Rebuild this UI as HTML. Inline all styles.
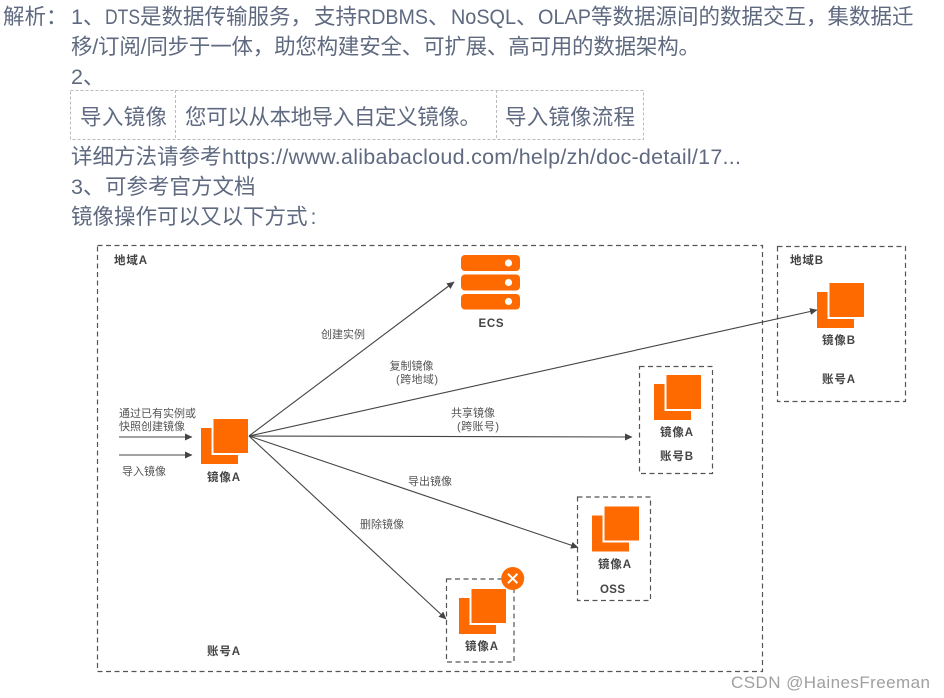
<!DOCTYPE html>
<html><head><meta charset="utf-8">
<style>
html,body{margin:0;padding:0;background:#fff;width:944px;height:698px;overflow:hidden}
svg{display:block}
.t{font-family:"Liberation Sans","Noto Sans CJK SC",sans-serif;font-size:21.5px;fill:#5f6a80}
.s{font-family:"Liberation Sans","Noto Sans CJK SC",sans-serif;font-size:11px;fill:#555}
.b{font-family:"Liberation Sans","Noto Sans CJK SC",sans-serif;font-size:11.5px;font-weight:bold;fill:#444}
.box{fill:none;stroke:#555;stroke-width:1.2;stroke-dasharray:5 3.5}
.ln{stroke:#444;stroke-width:1.1;fill:none}
.o{fill:#ff6a00}
</style></head><body>
<svg width="944" height="698" viewBox="0 0 944 698" xmlns="http://www.w3.org/2000/svg">
<defs>
<marker id="a" markerWidth="8" markerHeight="8" refX="7" refY="3.5" orient="auto" markerUnits="userSpaceOnUse"><path d="M0 0L7.5 3.5L0 7z" fill="#444"/></marker>
<g id="ic"><rect class="o" y="9" width="37" height="36"/><rect x="10.5" y="0" width="36.5" height="36" fill="#fff"/><rect class="o" x="12.5" y="0" width="34.5" height="34"/></g>
</defs>
<text class="t" x="3" y="24">解析：</text>
<text class="t" x="71" y="24">1、</text>
<text class="t" x="105" y="24" textLength="35" lengthAdjust="spacingAndGlyphs">DTS</text>
<text class="t" x="140" y="24">是数据传输服务，</text>
<text class="t" x="314" y="24">支持</text>
<text class="t" x="357" y="24" textLength="71" lengthAdjust="spacingAndGlyphs">RDBMS</text>
<text class="t" x="428" y="24">、</text>
<text class="t" x="451" y="24" textLength="65" lengthAdjust="spacingAndGlyphs">NoSQL</text>
<text class="t" x="516" y="24">、</text>
<text class="t" x="538" y="24" textLength="53" lengthAdjust="spacingAndGlyphs">OLAP</text>
<text class="t" x="591" y="24">等数据源间的数据交互，集数据迁</text>
<text class="t" x="71" y="54" textLength="629">移/订阅/同步于一体，助您构建安全、可扩展、高可用的数据架构。</text>
<text class="t" x="71" y="84">2、</text>
<rect x="70.5" y="90.5" width="573" height="49" fill="none" stroke="#bbb" stroke-dasharray="3 2"/>
<line x1="175.5" y1="90" x2="175.5" y2="139" stroke="#bbb" stroke-dasharray="3 2"/>
<line x1="496.5" y1="90" x2="496.5" y2="139" stroke="#bbb" stroke-dasharray="3 2"/>
<text class="t" x="80" y="124.5" textLength="87">导入镜像</text>
<text class="t" x="185" y="124.5" textLength="296">您可以从本地导入自定义镜像。</text>
<text class="t" x="505" y="124.5" textLength="130">导入镜像流程</text>
<text class="t" x="71" y="164">详细方法请参考</text>
<text class="t" x="222" y="164" textLength="519">https://www.alibabacloud.com/help/zh/doc-detail/17...</text>
<text class="t" x="71" y="194">3、</text>
<text class="t" x="105" y="194">可参考官方文档</text>
<text class="t" x="71" y="224">镜像操作可以又以下方式</text>
<text class="t" x="310.5" y="224">:</text>

<rect class="box" x="97.5" y="245.5" width="665" height="426"/>
<rect class="box" x="777.5" y="246.5" width="128" height="155"/>
<rect class="box" x="639.5" y="366.5" width="73" height="107"/>
<rect class="box" x="577.5" y="497" width="73" height="103.5"/>
<rect class="box" x="446.5" y="579" width="67.5" height="83"/>

<line class="ln" x1="249" y1="436" x2="454" y2="282" marker-end="url(#a)"/>
<line class="ln" x1="249" y1="436" x2="817" y2="310" marker-end="url(#a)"/>
<line class="ln" x1="249" y1="436" x2="632" y2="437" marker-end="url(#a)"/>
<line class="ln" x1="249" y1="436" x2="578" y2="547.5" marker-end="url(#a)"/>
<line class="ln" x1="249" y1="436" x2="446" y2="619" marker-end="url(#a)"/>
<line class="ln" x1="119" y1="437" x2="192" y2="437" marker-end="url(#a)"/>
<line class="ln" x1="119" y1="455" x2="192" y2="455" marker-end="url(#a)"/>

<rect class="o" x="461" y="255" width="59" height="16" rx="4"/>
<rect class="o" x="461" y="274.5" width="59" height="16" rx="4"/>
<rect class="o" x="461" y="294" width="59" height="15.5" rx="4"/>
<circle cx="508.5" cy="263" r="3.6" fill="#fff"/>
<circle cx="508.5" cy="282.5" r="3.6" fill="#fff"/>
<circle cx="508.5" cy="301.5" r="3.6" fill="#fff"/>

<use href="#ic" x="201" y="419"/>
<use href="#ic" x="817" y="283"/>
<use href="#ic" x="654" y="375"/>
<use href="#ic" x="592" y="506.5"/>
<use href="#ic" x="459" y="589"/>

<circle cx="512.7" cy="578.5" r="11.5" fill="#ff6a00"/>
<path d="M508 573.8L517.4 583.2M517.4 573.8L508 583.2" stroke="#fff" stroke-width="2" fill="none"/>

<text class="b" x="114" y="264" textLength="33">地域A</text>
<text class="b" x="790" y="264" textLength="33">地域B</text>
<text class="b" x="207" y="481" textLength="33">镜像A</text>
<text class="b" x="478.5" y="327" textLength="25">ECS</text>
<text class="b" x="822" y="344" textLength="33">镜像B</text>
<text class="b" x="822" y="383" textLength="33">账号A</text>
<text class="b" x="660" y="436" textLength="33">镜像A</text>
<text class="b" x="660" y="460" textLength="33">账号B</text>
<text class="b" x="598" y="568" textLength="33">镜像A</text>
<text class="b" x="600" y="593" textLength="25">OSS</text>
<text class="b" x="465" y="650" textLength="33">镜像A</text>
<text class="b" x="207" y="655" textLength="33">账号A</text>

<text class="s" x="321" y="338" textLength="44">创建实例</text>
<text class="s" x="389.5" y="369.5" textLength="44">复制镜像</text>
<text class="s" x="396" y="383" textLength="42">(跨地域)</text>
<text class="s" x="451" y="416.5" textLength="44">共享镜像</text>
<text class="s" x="457" y="430" textLength="42">(跨账号)</text>
<text class="s" x="119" y="417" textLength="77">通过已有实例或</text>
<text class="s" x="119" y="430" textLength="66">快照创建镜像</text>
<text class="s" x="122" y="475" textLength="44">导入镜像</text>
<text class="s" x="408" y="485" textLength="44">导出镜像</text>
<text class="s" x="360" y="528" textLength="44">删除镜像</text>

<text x="731" y="688" textLength="199" style="font-family:'Liberation Sans',sans-serif;font-size:17px;fill:#a0a0a0">CSDN @HainesFreeman</text>
</svg>
</body></html>
